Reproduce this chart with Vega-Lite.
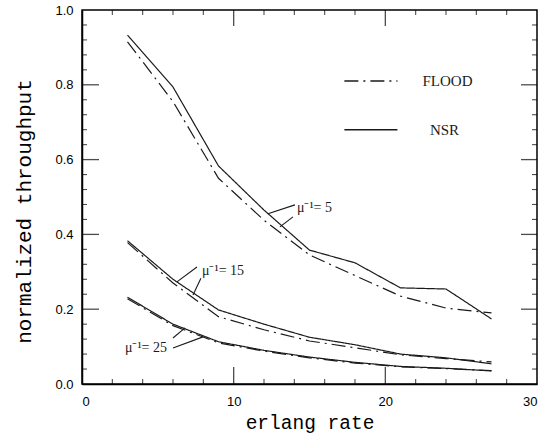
{
  "$schema": "https://vega.github.io/schema/vega-lite/v6.json",
  "width": 455,
  "height": 374,
  "autosize": "none",
  "padding": {"left": 82, "top": 10, "right": 10, "bottom": 56},
  "background": "white",
  "config": {
    "view": {"stroke": "black", "strokeWidth": 1.5},
    "axis": {"zindex": 1, "domainColor": "black", "domainWidth": 1.5, "labelColor": "black", "titleColor": "black", "grid": false, "labelFont": "Liberation Sans", "labelFontSize": 13}
  },
  "datasets": {
    "series": [
      {"x": 3, "y": 0.933, "mu": "5", "method": "NSR"},
      {"x": 6, "y": 0.794, "mu": "5", "method": "NSR"},
      {"x": 9, "y": 0.583, "mu": "5", "method": "NSR"},
      {"x": 12, "y": 0.465, "mu": "5", "method": "NSR"},
      {"x": 15, "y": 0.358, "mu": "5", "method": "NSR"},
      {"x": 18, "y": 0.324, "mu": "5", "method": "NSR"},
      {"x": 21, "y": 0.257, "mu": "5", "method": "NSR"},
      {"x": 24, "y": 0.254, "mu": "5", "method": "NSR"},
      {"x": 27, "y": 0.174, "mu": "5", "method": "NSR"},
      {"x": 3, "y": 0.915, "mu": "5", "method": "FLOOD"},
      {"x": 6, "y": 0.755, "mu": "5", "method": "FLOOD"},
      {"x": 9, "y": 0.55, "mu": "5", "method": "FLOOD"},
      {"x": 12, "y": 0.438, "mu": "5", "method": "FLOOD"},
      {"x": 15, "y": 0.345, "mu": "5", "method": "FLOOD"},
      {"x": 18, "y": 0.29, "mu": "5", "method": "FLOOD"},
      {"x": 21, "y": 0.235, "mu": "5", "method": "FLOOD"},
      {"x": 24, "y": 0.203, "mu": "5", "method": "FLOOD"},
      {"x": 27, "y": 0.19, "mu": "5", "method": "FLOOD"},
      {"x": 3, "y": 0.383, "mu": "15", "method": "NSR"},
      {"x": 6, "y": 0.28, "mu": "15", "method": "NSR"},
      {"x": 9, "y": 0.198, "mu": "15", "method": "NSR"},
      {"x": 12, "y": 0.16, "mu": "15", "method": "NSR"},
      {"x": 15, "y": 0.125, "mu": "15", "method": "NSR"},
      {"x": 18, "y": 0.105, "mu": "15", "method": "NSR"},
      {"x": 21, "y": 0.08, "mu": "15", "method": "NSR"},
      {"x": 24, "y": 0.07, "mu": "15", "method": "NSR"},
      {"x": 27, "y": 0.054, "mu": "15", "method": "NSR"},
      {"x": 3, "y": 0.378, "mu": "15", "method": "FLOOD"},
      {"x": 6, "y": 0.27, "mu": "15", "method": "FLOOD"},
      {"x": 9, "y": 0.18, "mu": "15", "method": "FLOOD"},
      {"x": 12, "y": 0.145, "mu": "15", "method": "FLOOD"},
      {"x": 15, "y": 0.115, "mu": "15", "method": "FLOOD"},
      {"x": 18, "y": 0.097, "mu": "15", "method": "FLOOD"},
      {"x": 21, "y": 0.078, "mu": "15", "method": "FLOOD"},
      {"x": 24, "y": 0.068, "mu": "15", "method": "FLOOD"},
      {"x": 27, "y": 0.059, "mu": "15", "method": "FLOOD"},
      {"x": 3, "y": 0.232, "mu": "25", "method": "NSR"},
      {"x": 6, "y": 0.16, "mu": "25", "method": "NSR"},
      {"x": 9, "y": 0.113, "mu": "25", "method": "NSR"},
      {"x": 12, "y": 0.09, "mu": "25", "method": "NSR"},
      {"x": 15, "y": 0.072, "mu": "25", "method": "NSR"},
      {"x": 18, "y": 0.058, "mu": "25", "method": "NSR"},
      {"x": 21, "y": 0.047, "mu": "25", "method": "NSR"},
      {"x": 24, "y": 0.042, "mu": "25", "method": "NSR"},
      {"x": 27, "y": 0.035, "mu": "25", "method": "NSR"},
      {"x": 3, "y": 0.228, "mu": "25", "method": "FLOOD"},
      {"x": 6, "y": 0.156, "mu": "25", "method": "FLOOD"},
      {"x": 9, "y": 0.11, "mu": "25", "method": "FLOOD"},
      {"x": 12, "y": 0.088, "mu": "25", "method": "FLOOD"},
      {"x": 15, "y": 0.07, "mu": "25", "method": "FLOOD"},
      {"x": 18, "y": 0.056, "mu": "25", "method": "FLOOD"},
      {"x": 21, "y": 0.046, "mu": "25", "method": "FLOOD"},
      {"x": 24, "y": 0.041, "mu": "25", "method": "FLOOD"},
      {"x": 27, "y": 0.036, "mu": "25", "method": "FLOOD"}
    ],
    "xmajor": [{"v": 10}, {"v": 20}],
    "xminor": [{"v": 2}, {"v": 4}, {"v": 6}, {"v": 8}, {"v": 12}, {"v": 14}, {"v": 16}, {"v": 18}, {"v": 22}, {"v": 24}, {"v": 26}, {"v": 28}],
    "ymajor": [{"v": 0.2}, {"v": 0.4}, {"v": 0.6}, {"v": 0.8}],
    "yminor": [{"v": 0.04}, {"v": 0.08}, {"v": 0.12}, {"v": 0.16}, {"v": 0.24}, {"v": 0.28}, {"v": 0.32}, {"v": 0.36}, {"v": 0.44}, {"v": 0.48}, {"v": 0.52}, {"v": 0.56}, {"v": 0.64}, {"v": 0.68}, {"v": 0.72}, {"v": 0.76}, {"v": 0.84}, {"v": 0.88}, {"v": 0.92}, {"v": 0.96}],
    "legend": [
      {"x": 17.3, "x2": 20.8, "y": 0.81, "method": "FLOOD", "tx": 24.1},
      {"x": 17.3, "x2": 20.8, "y": 0.68, "method": "NSR", "tx": 23.9}
    ],
    "leaders": [
      {"x": 14.04, "y": 0.479, "x2": 12.26, "y2": 0.455},
      {"x": 13.91, "y": 0.447, "x2": 13.05, "y2": 0.42},
      {"x": 7.58, "y": 0.313, "x2": 6.26, "y2": 0.273},
      {"x": 7.84, "y": 0.283, "x2": 7.32, "y2": 0.238},
      {"x": 6.0, "y": 0.123, "x2": 6.79, "y2": 0.15},
      {"x": 6.0, "y": 0.096, "x2": 7.98, "y2": 0.126}
    ],
    "labels": [
      {"x": 14.17, "y": 0.471, "text": "μ⁻¹= 5"},
      {"x": 7.91, "y": 0.302, "text": "μ⁻¹= 15"},
      {"x": 2.83, "y": 0.096, "text": "μ⁻¹= 25"}
    ]
  },
  "layer": [
    {
      "data": {"name": "series"},
      "mark": {"type": "line", "color": "#1a1a1a", "strokeWidth": 1.2},
      "encoding": {
        "x": {"field": "x", "type": "quantitative", "scale": {"domain": [0, 30], "nice": false},
          "axis": {"orient": "bottom", "values": [0, 10, 20, 30], "ticks": false, "tickSize": 0, "labelPadding": 11, "format": "d", "title": "erlang rate", "titleFont": "Liberation Mono", "titleFontSize": 19.5, "titleFontWeight": "normal", "titlePadding": 5}},
        "y": {"field": "y", "type": "quantitative", "scale": {"domain": [0, 1], "nice": false},
          "axis": {"orient": "left", "values": [0, 0.2, 0.4, 0.6, 0.8, 1.0], "ticks": false, "tickSize": 0, "labelPadding": 9, "format": ".1f", "title": "normalized throughput", "titleFont": "Liberation Mono", "titleFontSize": 21, "titleFontWeight": "normal", "titlePadding": 20, "titleY": 201}},
        "detail": {"field": "mu"},
        "strokeDash": {"field": "method", "type": "nominal", "scale": {"domain": ["FLOOD", "NSR"], "range": [[14, 5, 2, 5], [1, 0]]}, "legend": null}
      }
    },
    {
      "data": {"name": "xmajor"},
      "mark": {"type": "tick", "orient": "vertical", "size": 17, "thickness": 1.3, "color": "black", "yOffset": -8.5},
      "encoding": {"x": {"field": "v", "type": "quantitative"}, "y": {"datum": 0, "type": "quantitative"}}
    },
    {
      "data": {"name": "xmajor"},
      "mark": {"type": "tick", "orient": "vertical", "size": 16, "thickness": 1.3, "color": "black", "yOffset": 8},
      "encoding": {"x": {"field": "v", "type": "quantitative"}, "y": {"datum": 1, "type": "quantitative"}}
    },
    {
      "data": {"name": "xminor"},
      "mark": {"type": "tick", "orient": "vertical", "size": 5, "thickness": 1.1, "color": "black", "yOffset": -2.5},
      "encoding": {"x": {"field": "v", "type": "quantitative"}, "y": {"datum": 0, "type": "quantitative"}}
    },
    {
      "data": {"name": "xminor"},
      "mark": {"type": "tick", "orient": "vertical", "size": 5, "thickness": 1.1, "color": "black", "yOffset": 2.5},
      "encoding": {"x": {"field": "v", "type": "quantitative"}, "y": {"datum": 1, "type": "quantitative"}}
    },
    {
      "data": {"name": "ymajor"},
      "mark": {"type": "tick", "orient": "horizontal", "size": 17, "thickness": 1.3, "color": "black", "xOffset": 8.5},
      "encoding": {"y": {"field": "v", "type": "quantitative"}, "x": {"datum": 0, "type": "quantitative"}}
    },
    {
      "data": {"name": "ymajor"},
      "mark": {"type": "tick", "orient": "horizontal", "size": 16, "thickness": 1.3, "color": "black", "xOffset": -8},
      "encoding": {"y": {"field": "v", "type": "quantitative"}, "x": {"datum": 30, "type": "quantitative"}}
    },
    {
      "data": {"name": "yminor"},
      "mark": {"type": "tick", "orient": "horizontal", "size": 5, "thickness": 1.1, "color": "black", "xOffset": 2.5},
      "encoding": {"y": {"field": "v", "type": "quantitative"}, "x": {"datum": 0, "type": "quantitative"}}
    },
    {
      "data": {"name": "yminor"},
      "mark": {"type": "tick", "orient": "horizontal", "size": 5, "thickness": 1.1, "color": "black", "xOffset": -2.5},
      "encoding": {"y": {"field": "v", "type": "quantitative"}, "x": {"datum": 30, "type": "quantitative"}}
    },
    {
      "data": {"name": "legend"},
      "mark": {"type": "rule", "color": "#1a1a1a", "strokeWidth": 1.4},
      "encoding": {
        "x": {"field": "x", "type": "quantitative"},
        "x2": {"field": "x2"},
        "y": {"field": "y", "type": "quantitative"},
        "strokeDash": {"field": "method", "type": "nominal", "scale": {"domain": ["FLOOD", "NSR"], "range": [[14, 5, 2, 5], [1, 0]]}, "legend": null}
      }
    },
    {
      "data": {"name": "legend"},
      "mark": {"type": "text", "font": "Liberation Serif", "fontSize": 15, "color": "#1a1a1a", "align": "center", "baseline": "middle"},
      "encoding": {
        "x": {"field": "tx", "type": "quantitative"},
        "y": {"field": "y", "type": "quantitative"},
        "text": {"field": "method"}
      }
    },
    {
      "data": {"name": "leaders"},
      "mark": {"type": "rule", "color": "#1a1a1a", "strokeWidth": 1.1},
      "encoding": {
        "x": {"field": "x", "type": "quantitative"},
        "x2": {"field": "x2"},
        "y": {"field": "y", "type": "quantitative"},
        "y2": {"field": "y2"}
      }
    },
    {
      "data": {"name": "labels"},
      "mark": {"type": "text", "font": "Liberation Serif", "fontSize": 14, "color": "#1a1a1a", "align": "left", "baseline": "middle"},
      "encoding": {
        "x": {"field": "x", "type": "quantitative"},
        "y": {"field": "y", "type": "quantitative"},
        "text": {"field": "text"}
      }
    }
  ]
}
